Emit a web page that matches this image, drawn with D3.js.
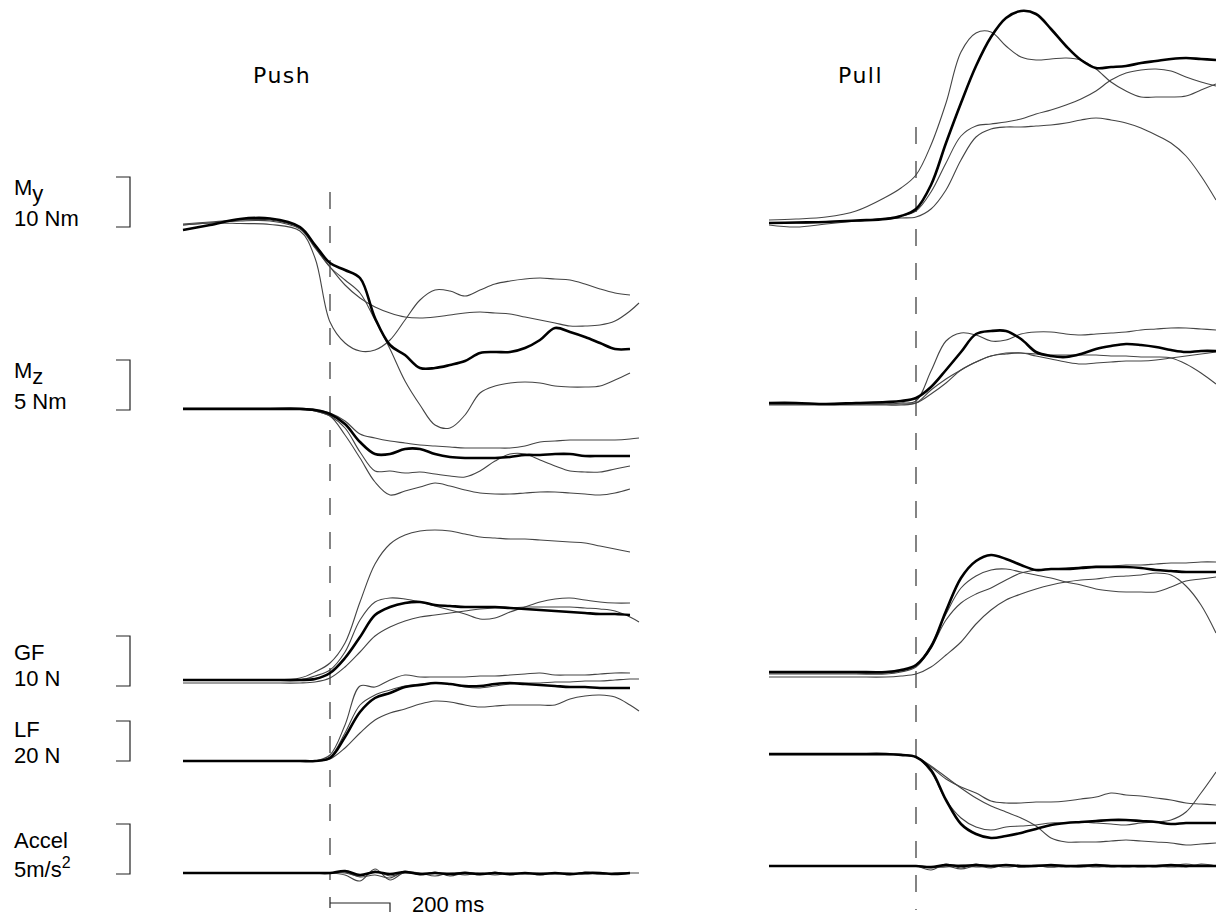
<!DOCTYPE html>
<html>
<head>
<meta charset="utf-8">
<script src="https://cdn.jsdelivr.net/npm/d3@7"></script>
<style>
  html, body { margin: 0; padding: 0; background: #fff; }
  svg { display: block; }
  .label { font-family: "Liberation Sans", Arial, Helvetica, sans-serif; font-size: 22px; fill: #000; }
  .title { font-family: "DejaVu Sans", Verdana, sans-serif; font-size: 22px; letter-spacing: 1.5px; fill: #000; }
</style>
</head>
<body>
<div id="chart"></div>
<script>
const width = 1216;
const height = 919;

// sample times, ms from the onset (dashed line)
const times = [-490, -400, -300, -200, -100, -50, 0, 50, 100, 150, 200, 250, 300, 350,
  400, 450, 500, 550, 600, 650, 700, 750, 800, 850, 900, 950, 1000, 1030];

// channels and their scale bars
const channelNames = ['My', 'Mz', 'GF', 'LF', 'Accel'];
const barValues = [10, 5, 10, 20, 5];          // Nm, Nm, N, N, m/s2
const labelMain = ['M', 'M', 'GF', 'LF', 'Accel'];
const labelSub = ['y', 'z', '', '', ''];
const unitMain = ['10 Nm', '5 Nm', '10 N', '20 N', '5m/s'];
const unitSup = ['', '', '', '', '2'];
const panelTitles = ['Push', 'Pull'];
const timeBar = 200; // ms
const timeBarLabel = '200 ms';

// ---- PUSH (values relative to pre-onset level, in channel units) ----
// My (Nm)
const pushMyA = [0.8, 1.2, 1.1, 0.9, -0.4, -5.8, -18.6, -22.8, -24.4, -24.2, -22.2, -18.2, -14.2, -12.2, -12.4, -13.4, -12.2, -11, -10.4, -10, -9.8, -10, -10.2, -11, -12, -12.8, -13.2, null];
const pushMyB = [0.8, 1.2, 1.6, 1.6, 0, -3.8, -7.6, -11.2, -13.8, -15.6, -16.8, -17.6, -17.8, -17.6, -17.2, -16.8, -16.6, -16.8, -17, -17.6, -18.2, -18.8, -19.4, -19.4, -19.2, -18.4, -16.4, -14.8];
const pushMyC = [1, 1.4, 1.8, 1.8, 0.2, -3.6, -7.6, -10.2, -12.8, -18.2, -24, -30.4, -35.2, -39.2, -39.8, -37.2, -32.8, -31.4, -30.8, -30.6, -30.8, -31.4, -31.6, -31.6, -31.4, -30.2, -28.8, null];
const pushMyMean = [-0.2, 0.8, 2, 2.1, 0.4, -3.2, -6.8, -8.2, -9.8, -17.8, -23.2, -25.2, -27.8, -27.8, -27.2, -26.4, -24.8, -24.6, -24.6, -23.8, -22.2, -19.8, -20.6, -21.6, -22.8, -24, -24, null];
// Mz (Nm)
const pushMzA = [0, 0, 0, 0, 0, -0.2, -0.5, -1.3, -2.6, -3, -3.3, -3.5, -3.7, -3.8, -3.9, -4, -4, -4, -4, -3.8, -3.4, -3.3, -3.2, -3.2, -3.2, -3.2, -3.1, -3];
const pushMzB = [-0.1, -0.1, -0.1, -0.1, -0.1, -0.3, -0.8, -2, -4.4, -6.3, -6.3, -6.5, -6.4, -6.6, -6.8, -6.9, -6.3, -5.3, -4.6, -4.6, -5.2, -5.8, -6.3, -6.4, -6.4, -6.1, -5.8, null];
const pushMzC = [-0.1, -0.1, -0.1, -0.1, -0.1, -0.3, -0.8, -2.7, -5, -7.4, -8.7, -8.3, -7.9, -7.5, -7.8, -8.2, -8.5, -8.6, -8.6, -8.5, -8.4, -8.4, -8.5, -8.6, -8.7, -8.5, -8.1, null];
const pushMzMean = [-0.1, -0.1, -0.1, -0.1, -0.1, -0.2, -0.6, -1.6, -3.4, -4.6, -4.6, -4.1, -4.1, -4.6, -4.9, -5, -5, -5, -4.9, -4.7, -4.7, -4.6, -4.6, -4.8, -4.8, -4.8, -4.8, null];
// GF (N)
const pushGfA = [0, 0, 0, 0, 0.4, 1.6, 3.4, 7.4, 15.6, 23.2, 27.2, 29, 29.8, 30, 29.8, 29.2, 28.6, 28.4, 28.2, 28.2, 28, 27.8, 27.6, 27.4, 26.8, 26.2, 25.6, null];
const pushGfB = [0, 0, 0, 0, 0, 0.8, 2, 5.6, 12, 15.6, 16.4, 16.2, 15.6, 14.8, 14, 13.2, 12.2, 12.4, 13.6, 14.6, 15.6, 16.2, 16.4, 16, 15.6, 15.4, 15.4, null];
const pushGfC = [-0.6, -0.6, -0.6, -0.6, -0.6, -0.4, 0.4, 2.6, 5.6, 8.8, 10.6, 11.8, 12.6, 13, 13.4, 13.8, 14.2, 14.4, 14.4, 14.6, 14.6, 14.6, 14.6, 14.4, 14.2, 13.8, 12.6, 11.6];
const pushGfMean = [0, 0, 0, 0, 0, 0.2, 1.4, 4.4, 8.6, 13, 14.6, 15.4, 15.6, 15, 14.8, 14.6, 14.6, 14.6, 14.4, 14.2, 14, 13.8, 13.6, 13.4, 13.2, 13.2, 13, null];
// LF (N)
const pushLfA = [0, 0, 0, 0, 0, 0, 3, 18, 37.5, 37, 40.5, 43, 42, 42, 42, 42, 42.5, 42.5, 43, 43.5, 44, 43, 43, 43, 43.5, 44, 44, null];
const pushLfB = [0, 0, 0, 0, 0, 0, 2, 14, 28, 33, 35.5, 37.5, 38.5, 39, 38.5, 37, 36.5, 37.5, 38.5, 39, 39, 39.5, 39.5, 40, 40, 40.5, 41, 41];
const pushLfC = [0, 0, 0, 0, 0, 0, 1, 6.5, 14, 20.5, 24, 26, 28.5, 30, 29.5, 28, 27, 27.5, 28, 28, 28, 28, 31, 32.5, 33, 32, 28, 25];
const pushLfMean = [0, 0, 0, 0, 0, 0, 1.5, 12, 24.5, 31.5, 34, 37, 38, 39, 38.5, 37.5, 37.5, 38.5, 39, 38.5, 38, 37.5, 37, 37, 36.5, 36.5, 36.5, null];
// Accel (m/s2)
const pushAcA = [0, 0, 0, 0, 0, 0, 0, -0.2, -0.8, 0.4, -0.7, 0.1, 0, -0.3, 0, -0.2, 0, -0.2, 0, -0.1, 0, -0.1, 0, -0.1, 0, -0.1, 0, 0];
const pushAcB = [0, 0, 0, 0, 0, 0, 0, 0.1, -0.4, -0.2, -0.5, 0.2, -0.2, 0.1, -0.3, 0, -0.2, 0.1, -0.2, 0, -0.2, 0, -0.2, 0.1, -0.1, 0, 0, null];
const pushAcC = [0, 0, 0, 0, 0, 0, 0, 0, -0.3, 0.2, -0.3, 0, -0.1, 0, -0.1, 0.1, -0.1, 0, -0.1, 0, -0.1, 0, -0.1, 0, -0.1, 0, 0, null];
const pushAcMean = [0, 0, 0, 0, 0, 0, 0, 0.2, -0.2, 0.1, -0.1, 0.1, -0.1, 0, -0.1, 0, -0.1, 0, -0.1, 0, -0.1, 0, -0.1, 0, 0, -0.1, 0, null];

// ---- PULL ----
const pullMyA = [0.8, 1, 1.4, 2.6, 5.4, 7.2, 9.8, 15.8, 24.2, 34.4, 38.2, 38.4, 35.6, 33.4, 32.8, 33, 33.2, 32.8, 31, 28.4, 26.6, 25.4, 25.4, 25.4, 25.6, 26.8, 28, null];
const pullMyB = [-0.2, -0.6, 0, 0.6, 1.2, 1.6, 2.6, 6.4, 12.2, 17.6, 19.6, 20, 20.4, 21, 22, 22.8, 23.8, 25, 26.6, 28.8, 30.2, 30.8, 31, 30.6, 29.4, 28.4, 27.6, null];
const pullMyC = [0.2, 0.2, 0.4, 0.6, 1, 1.2, 1.4, 3, 6.8, 12.8, 17.4, 19, 19.4, 19.4, 19.6, 19.8, 20.2, 20.8, 21.2, 20.8, 20.2, 19.2, 17.8, 16.2, 13.6, 9.6, 4.8, null];
const pullMyMean = [0.2, 0.3, 0.4, 0.7, 1, 1.6, 3, 7.8, 16.2, 24.2, 31.6, 37.4, 41.2, 42.6, 42, 39, 35.6, 32.8, 31.2, 31.4, 31.6, 32.2, 32.6, 33, 33.2, 33, 32.8, null];
const pullMzA = [-0.1, -0.1, -0.1, -0.1, -0.1, 0, 0.2, 3.2, 6.2, 7, 6.8, 6.2, 6.3, 6.9, 7.1, 7.1, 6.9, 6.8, 6.9, 7, 7.1, 7.3, 7.4, 7.5, 7.5, 7.4, 7.3, null];
const pullMzB = [-0.1, -0.1, -0.1, -0.1, -0.1, -0.1, 0, 0.9, 2, 3.3, 4.1, 4.7, 5, 5, 4.9, 4.8, 4.8, 4.8, 4.8, 4.7, 4.7, 4.6, 4.6, 4.5, 3.9, 3, 1.9, null];
const pullMzC = [-0.2, -0.2, -0.2, -0.2, -0.2, -0.2, 0, 1.3, 2.4, 3.3, 4.1, 4.7, 4.9, 5, 4.7, 4.4, 4.1, 3.9, 4, 4.1, 4.2, 4.2, 4.3, 4.5, 4.7, 4.9, 5.1, null];
const pullMzMean = [0, 0, -0.1, 0, 0.1, 0.2, 0.5, 1.6, 3.3, 5.1, 6.9, 7.2, 7.2, 6.4, 5.1, 4.7, 4.6, 4.9, 5.4, 5.7, 5.9, 5.8, 5.6, 5.3, 5.1, 5.2, 5.2, null];
const pullGfA = [-0.2, -0.2, -0.2, -0.2, -0.2, 0.2, 1.2, 5.4, 11.6, 16.8, 19.2, 20.4, 20.6, 20, 19.4, 18.8, 18, 17.4, 16.6, 16.2, 16, 16, 16, 17, 18.2, 18.6, 19, null];
const pullGfB = [-0.4, -0.4, -0.4, -0.4, -0.4, 0, 1, 4.8, 10.4, 13.8, 15.6, 16.8, 18.4, 19.8, 20.4, 20.6, 20.8, 21, 21.2, 21.2, 21.4, 21.4, 21.6, 21.8, 21.8, 22, 22, null];
const pullGfC = [-1, -1, -1, -1, -1, -0.8, -0.4, 1, 3.4, 6, 9.6, 12.4, 14.4, 15.6, 16.6, 17.4, 18, 18.4, 18.6, 19, 19.2, 19.4, 19.8, 19.4, 17.2, 13.4, 7.8, null];
const pullGfMean = [0, 0, 0, 0, 0, 0.4, 1.4, 5, 12.2, 18.8, 22.2, 23.4, 22.6, 21.4, 20.4, 20.6, 20.6, 20.8, 21, 21, 21, 20.8, 20.4, 20.2, 20, 20, 20, null];
const pullLfA = [0, 0, 0, 0, 0, -0.5, -1.5, -9, -23, -32, -36.5, -38, -36.5, -36, -35.5, -34.5, -34.5, -34, -34.5, -35, -35.5, -34.5, -34, -33, -29, -19.5, -9, null];
const pullLfB = [0, 0, 0, 0, 0, 0, -1.5, -6.5, -12.5, -16.5, -19.5, -23.5, -24.5, -24.5, -24, -24, -23.5, -22.5, -21.5, -19.5, -20.5, -21, -22, -23, -24.5, -25, -25.5, null];
const pullLfC = [-0.5, -0.5, -0.5, -0.5, -0.5, -0.5, -1.5, -6, -11.5, -17, -22, -26, -29, -32, -36, -42, -44, -44, -44, -43.5, -43, -43.5, -44, -44.5, -45.5, -45, -44.5, null];
const pullLfMean = [0, 0, 0, 0, 0, -0.5, -1.5, -8, -23, -35, -40, -42, -41, -39.5, -37.5, -35.5, -34.5, -34, -33.5, -33, -33, -33.5, -34, -35, -34.5, -34.5, -34.5, null];
const pullAcA = [0, 0, 0, 0, 0, 0, 0, -0.4, 0.2, -0.2, 0.2, -0.1, 0.1, -0.1, 0.1, 0, -0.1, 0.1, 0, -0.1, 0, 0, -0.1, 0, 0.2, 0, 0, null];
const pullAcB = [0, 0, 0, 0, 0, 0, 0, -0.2, 0, -0.3, 0, -0.2, 0.1, -0.1, 0, -0.1, 0, -0.1, 0, 0, -0.1, 0, 0, -0.1, 0, 0.1, 0, null];
const pullAcC = [0, 0, 0, 0, 0, 0, 0, -0.1, -0.1, 0.1, -0.1, 0, -0.1, 0, 0, -0.1, 0, 0, -0.1, 0, 0, -0.1, 0, 0, -0.1, 0.2, 0, null];
const pullAcMean = [0, 0, 0, 0, 0, 0, 0, -0.1, 0.1, 0, 0.1, 0, 0.1, 0, 0, 0.1, 0, 0, 0.1, 0, 0, 0, 0, 0.1, 0, 0, 0, null];

// per panel, per channel: three single trials, then the bold mean
const pushTraces = [
  [pushMyA, pushMyB, pushMyC, pushMyMean],
  [pushMzA, pushMzB, pushMzC, pushMzMean],
  [pushGfA, pushGfB, pushGfC, pushGfMean],
  [pushLfA, pushLfB, pushLfC, pushLfMean],
  [pushAcA, pushAcB, pushAcC, pushAcMean],
];
const pullTraces = [
  [pullMyA, pullMyB, pullMyC, pullMyMean],
  [pullMzA, pullMzB, pullMzC, pullMzMean],
  [pullGfA, pullGfB, pullGfC, pullGfMean],
  [pullLfA, pullLfB, pullLfC, pullLfMean],
  [pullAcA, pullAcB, pullAcC, pullAcMean],
];

// ---- layout ----
const barPx = [50, 50, 50, 40, 50];            // pixel length of each scale bar
const barBottom = [227, 410, 686, 761, 874];
const labelTopY = [195, 378, 660, 737, 848];
const labelBottomY = [226, 409, 686, 763, 877];

const panels = [
  { traces: pushTraces, onset: 330, zero: [229, 408, 680, 761, 873], dash: [192, 880], titleX: 253 },
  { traces: pullTraces, onset: 916, zero: [224, 403, 672, 754, 866], dash: [127, 910], titleX: 838 },
];

const svg = d3.select('#chart')
  .append('svg')
  .attr('width', width)
  .attr('height', height);

// scale bars + labels on the left
channelNames.forEach((name, i) => {
  const yBar = d3.scaleLinear().domain([0, barValues[i]]).range([barBottom[i], barBottom[i] - barPx[i]]);
  svg.append('path')
    .attr('d', `M116,${yBar(barValues[i])}H130V${yBar(0)}H116`)
    .attr('fill', 'none')
    .attr('stroke', '#222')
    .attr('stroke-width', 1.2);

  const top = svg.append('text').attr('class', 'label').attr('x', 14).attr('y', labelTopY[i]);
  top.append('tspan').text(labelMain[i]);
  if (labelSub[i]) top.append('tspan').attr('dy', 6).text(labelSub[i]);

  const bottom = svg.append('text').attr('class', 'label').attr('x', 14).attr('y', labelBottomY[i]);
  bottom.append('tspan').text(unitMain[i]);
  if (unitSup[i]) bottom.append('tspan').attr('dy', -9).style('font-size', '16px').text(unitSup[i]);
});

panels.forEach((p, pi) => {
  const x = d3.scaleLinear().domain([0, 1000]).range([p.onset, p.onset + 300]);

  svg.append('text')
    .attr('class', 'title')
    .attr('x', p.titleX)
    .attr('y', 83)
    .text(panelTitles[pi]);

  // onset line
  svg.append('line')
    .attr('x1', x(0)).attr('x2', x(0))
    .attr('y1', p.dash[0]).attr('y2', p.dash[1])
    .attr('stroke', '#333')
    .attr('stroke-width', 1.2)
    .attr('stroke-dasharray', '17,17');

  p.traces.forEach((group, ci) => {
    const y = d3.scaleLinear()
      .domain([0, barValues[ci]])
      .range([p.zero[ci], p.zero[ci] - barPx[ci]]);

    const line = d3.line()
      .defined(d => d[1] != null)
      .x(d => x(d[0]))
      .y(d => y(d[1]))
      .curve(d3.curveCatmullRom.alpha(0.5));

    group.forEach((vals, k) => {
      const bold = k === group.length - 1;
      svg.append('path')
        .datum(vals.map((v, j) => [times[j], v]))
        .attr('d', line)
        .attr('fill', 'none')
        .attr('stroke', bold ? '#000' : '#444')
        .attr('stroke-width', bold ? 2.6 : 1.1)
        .attr('stroke-linejoin', 'round');
    });
  });

  // time scale bar under the push panel
  if (pi === 0) {
    const y0 = 903;
    svg.append('path')
      .attr('d', `M${x(0)},${y0 - 6}V${y0 + 5}M${x(0)},${y0}H${x(timeBar)}V${y0 + 9}`)
      .attr('fill', 'none')
      .attr('stroke', '#222')
      .attr('stroke-width', 1.2);
    svg.append('text')
      .attr('class', 'label')
      .attr('x', x(timeBar) + 22)
      .attr('y', 912)
      .text(timeBarLabel);
  }
});
</script>
</body>
</html>
